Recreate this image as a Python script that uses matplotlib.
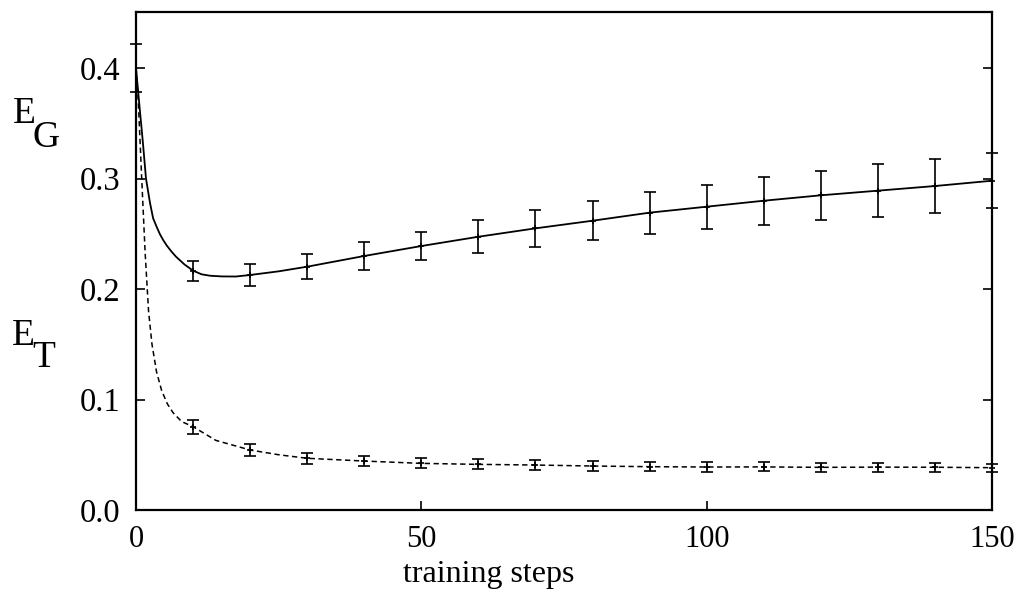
import numpy as np
import matplotlib
matplotlib.use("Agg")
import matplotlib.pyplot as plt

plt.rcParams['font.family'] = ['Liberation Serif', 'DejaVu Serif']

# error-bar sample points
steps   = [10, 20, 30, 40, 50, 60, 70, 80, 90, 100, 110, 120, 130, 140, 150]
eg_mean = [0.2166, 0.2127, 0.2202, 0.2299, 0.2389, 0.2473, 0.2549, 0.2618, 0.2691,
           0.2745, 0.2799, 0.2848, 0.2890, 0.2932, 0.2980]
eg_err  = [0.0092, 0.0103, 0.0113, 0.0124, 0.0130, 0.0150, 0.0166, 0.0177, 0.0190,
           0.0200, 0.0216, 0.0223, 0.0237, 0.0241, 0.0250]
et_mean = [0.0754, 0.0543, 0.0468, 0.0443, 0.0422, 0.0413, 0.0407, 0.0398, 0.0392,
           0.0389, 0.0390, 0.0386, 0.0388, 0.0387, 0.0383]
et_err  = [0.0063, 0.0050, 0.0048, 0.0045, 0.0045, 0.0045, 0.0044, 0.0042, 0.0042,
           0.0041, 0.0040, 0.0040, 0.0040, 0.0039, 0.0035]

# start point of E_G
eg0_x, eg0_mean, eg0_err = 0, 0.400, 0.022

# curve points (early part, before/between the error bars)
eg_curve_x = [0, 0.6, 1.2, 1.75, 2.45, 3.0, 3.6, 4.2, 4.8, 5.4, 6.2, 7.0, 8.5, 10,
              11.5, 13, 15, 17.5, 20, 25]
eg_curve_y = [0.400, 0.366, 0.333, 0.300, 0.278, 0.264, 0.2565, 0.2495, 0.2440, 0.2393,
              0.2340, 0.2293, 0.2222, 0.2166, 0.2133, 0.2120, 0.2114, 0.2113, 0.2127, 0.2160]
et_curve_x = [0, 0.4, 1.0, 1.6, 2.2, 2.8, 3.6, 4.5, 5.5, 6.5, 8.0, 10, 14, 20, 25]
et_curve_y = [0.400, 0.370, 0.300, 0.233, 0.180, 0.150, 0.125, 0.108, 0.096, 0.088,
              0.080, 0.0754, 0.0630, 0.0543, 0.0500]

xticks = [0, 50, 100, 150]
xticklabels = ['0', '50', '100', '150']
yticks = [0.0, 0.1, 0.2, 0.3, 0.4]
yticklabels = ['0.0', '0.1', '0.2', '0.3', '0.4']

fig = plt.figure(figsize=(10.18, 5.91), dpi=100)
ax = fig.add_axes([136/1018, 1-510/591, (992-136)/1018, (510-12)/591])

# full curves: early part + remaining sample points
eg_x = eg_curve_x + [s for s in steps if s > eg_curve_x[-1]]
eg_y = eg_curve_y + [m for s, m in zip(steps, eg_mean) if s > eg_curve_x[-1]]
et_x = et_curve_x + [s for s in steps if s > et_curve_x[-1]]
et_y = et_curve_y + [m for s, m in zip(steps, et_mean) if s > et_curve_x[-1]]

ax.plot(eg_x, eg_y, color='black', lw=1.3, solid_joinstyle='round', clip_on=False)
ax.plot(et_x, et_y, color='black', lw=1.1, linestyle=(0, (3.5, 2.3)), clip_on=False)

ekw = dict(fmt='none', ecolor='black', elinewidth=1.2, capsize=4, capthick=1.2)
c1 = ax.errorbar(steps, eg_mean, yerr=eg_err, **ekw)
c2 = ax.errorbar(steps, et_mean, yerr=et_err, **ekw)
c3 = ax.errorbar([eg0_x], [eg0_mean], yerr=[eg0_err], **ekw)
for c in (c1, c2, c3):
    for art in c.get_children():
        art.set_clip_on(False)
ax.plot(steps, eg_mean, '+', color='black', ms=5, mew=1.2, clip_on=False)
ax.plot(steps, et_mean, '+', color='black', ms=5, mew=1.2, clip_on=False)

ax.set_xlim(0, 150)
ax.set_ylim(0, 0.4507)
ax.set_xticks(xticks)
ax.set_xticklabels(xticklabels)
ax.set_yticks(yticks)
ax.set_yticklabels(yticklabels)
ax.tick_params(axis='both', direction='in', length=6.5, width=1.2,
               right=True, top=False)
ax.tick_params(axis='x', pad=11, labelsize=22)
ax.tick_params(axis='y', pad=11, labelsize=23.5)
for sp in ax.spines.values():
    sp.set_linewidth(1.6)

fig.text(489/1018, 1-582/591, 'training steps', fontsize=23,
         ha='center', va='baseline')

fig.text(13/1018, 1-123/591, 'E', fontsize=27, ha='left', va='baseline')
fig.text(33/1018, 1-147/591, 'G', fontsize=27, ha='left', va='baseline')
fig.text(12/1018, 1-345/591, 'E', fontsize=27, ha='left', va='baseline')
fig.text(32/1018, 1-367/591, 'T', fontsize=27, ha='left', va='baseline')

fig.savefig('out.png', dpi=100)
